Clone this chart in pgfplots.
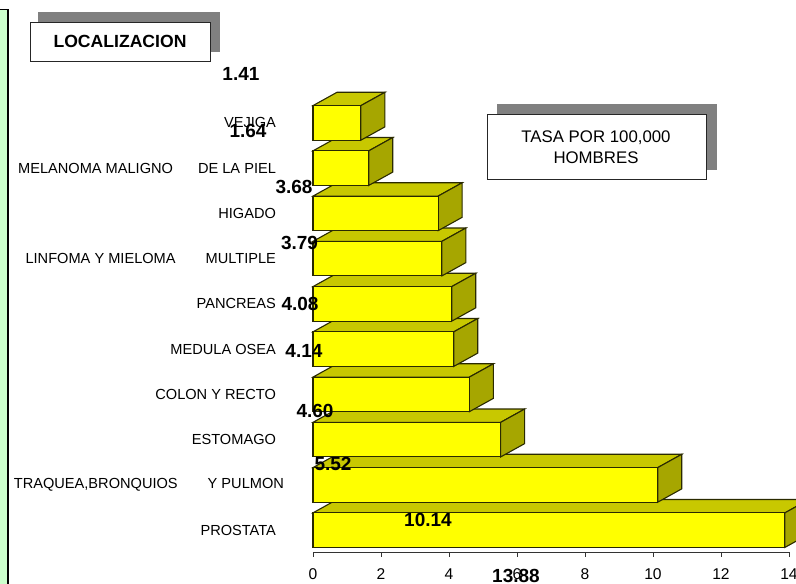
\documentclass[border=0pt]{standalone}
\usepackage{pgfplots}
\pgfplotsset{compat=1.18}
\usepackage{fontspec}
\setmainfont{Liberation Sans}
\definecolor{panel}{HTML}{CCFFCC}
\definecolor{topc}{HTML}{C8C800}
\definecolor{sidec}{HTML}{A6A600}
\definecolor{edge}{HTML}{2A2A00}
\definecolor{shadow}{HTML}{808080}
\definecolor{baryellow}{RGB}{255,255,0}
\newcommand{\lab}{\fontsize{14.6}{17}\selectfont}
\newcommand{\val}{\fontsize{19}{21}\selectfont\bfseries}
\begin{document}
\begin{tikzpicture}[x=1pt,y=1pt]
\useasboundingbox (0,0) rectangle (796,584);
\clip (0,0) rectangle (796,584);
\fill[panel] (0,0) rectangle (7.5,574);
\draw[black,line width=1.8pt] (0,574.5) -- (7.9,574.5) -- (7.9,0);
\begin{axis}[
  at={(313pt,31.7pt)}, anchor=south west,
  scale only axis, width=476pt, height=452.05pt,
  xmin=0, xmax=14, ymin=-0.49, ymax=9.5,
  axis x line=bottom, axis y line=left,
  x axis line style={-, draw=black!80, line width=1.2pt},
  y axis line style={draw=none},
  clip=false,
  xtick={0,2,4,6,8,10,12,14},
  x tick style={draw=black!80, line width=0.9pt},
  y tick style={draw=none},
  tick align=outside, major tick length=4.5pt,
  /pgf/number format/assume math mode=true,
  xticklabel style={font=\fontsize{15.6}{17}\selectfont, yshift=-8pt},
  ytick={0,1,2,3,4,5,6,7,8,9},
  yticklabels={PROSTATA,
    {TRAQUEA,BRONQUIOS\hspace{30pt}Y PULMON\kern-8pt},
    ESTOMAGO,COLON Y RECTO,MEDULA OSEA,PANCREAS,
    {LINFOMA Y MIELOMA\hspace{30pt}MULTIPLE},
    HIGADO,
    {MELANOMA MALIGNO\hspace{25pt}DE LA PIEL},
    VEJIGA},
  yticklabel style={font=\lab, anchor=east, xshift=-29pt},
]
% top faces
\addplot[fill=topc,draw=edge,line width=1.1pt,forget plot] coordinates {(0,0.382)(13.88,0.382)(14.586,0.676)(0.706,0.676)} --cycle;
\addplot[fill=topc,draw=edge,line width=1.1pt,forget plot] coordinates {(0,1.382)(10.14,1.382)(10.846,1.676)(0.706,1.676)} --cycle;
\addplot[fill=topc,draw=edge,line width=1.1pt,forget plot] coordinates {(0,2.382)(5.52,2.382)(6.226,2.676)(0.706,2.676)} --cycle;
\addplot[fill=topc,draw=edge,line width=1.1pt,forget plot] coordinates {(0,3.382)(4.60,3.382)(5.306,3.676)(0.706,3.676)} --cycle;
\addplot[fill=topc,draw=edge,line width=1.1pt,forget plot] coordinates {(0,4.382)(4.14,4.382)(4.846,4.676)(0.706,4.676)} --cycle;
\addplot[fill=topc,draw=edge,line width=1.1pt,forget plot] coordinates {(0,5.382)(4.08,5.382)(4.786,5.676)(0.706,5.676)} --cycle;
\addplot[fill=topc,draw=edge,line width=1.1pt,forget plot] coordinates {(0,6.382)(3.79,6.382)(4.496,6.676)(0.706,6.676)} --cycle;
\addplot[fill=topc,draw=edge,line width=1.1pt,forget plot] coordinates {(0,7.382)(3.68,7.382)(4.386,7.676)(0.706,7.676)} --cycle;
\addplot[fill=topc,draw=edge,line width=1.1pt,forget plot] coordinates {(0,8.382)(1.64,8.382)(2.346,8.676)(0.706,8.676)} --cycle;
\addplot[fill=topc,draw=edge,line width=1.1pt,forget plot] coordinates {(0,9.382)(1.41,9.382)(2.116,9.676)(0.706,9.676)} --cycle;
% side faces
\addplot[fill=sidec,draw=edge,line width=1.1pt,forget plot] coordinates {(13.88,0.382)(14.586,0.676)(14.586,-0.088)(13.88,-0.382)} --cycle;
\addplot[fill=sidec,draw=edge,line width=1.1pt,forget plot] coordinates {(10.14,1.382)(10.846,1.676)(10.846,0.912)(10.14,0.618)} --cycle;
\addplot[fill=sidec,draw=edge,line width=1.1pt,forget plot] coordinates {(5.52,2.382)(6.226,2.676)(6.226,1.912)(5.52,1.618)} --cycle;
\addplot[fill=sidec,draw=edge,line width=1.1pt,forget plot] coordinates {(4.60,3.382)(5.306,3.676)(5.306,2.912)(4.60,2.618)} --cycle;
\addplot[fill=sidec,draw=edge,line width=1.1pt,forget plot] coordinates {(4.14,4.382)(4.846,4.676)(4.846,3.912)(4.14,3.618)} --cycle;
\addplot[fill=sidec,draw=edge,line width=1.1pt,forget plot] coordinates {(4.08,5.382)(4.786,5.676)(4.786,4.912)(4.08,4.618)} --cycle;
\addplot[fill=sidec,draw=edge,line width=1.1pt,forget plot] coordinates {(3.79,6.382)(4.496,6.676)(4.496,5.912)(3.79,5.618)} --cycle;
\addplot[fill=sidec,draw=edge,line width=1.1pt,forget plot] coordinates {(3.68,7.382)(4.386,7.676)(4.386,6.912)(3.68,6.618)} --cycle;
\addplot[fill=sidec,draw=edge,line width=1.1pt,forget plot] coordinates {(1.64,8.382)(2.346,8.676)(2.346,7.912)(1.64,7.618)} --cycle;
\addplot[fill=sidec,draw=edge,line width=1.1pt,forget plot] coordinates {(1.41,9.382)(2.116,9.676)(2.116,8.912)(1.41,8.618)} --cycle;
% front faces
\addplot[xbar, bar shift=0pt, bar width=34.6pt, fill=baryellow, draw=edge, line width=1.1pt] coordinates {
 (13.88,0) (10.14,1) (5.52,2) (4.60,3) (4.14,4) (4.08,5) (3.79,6) (3.68,7) (1.64,8) (1.41,9)};
% value labels, where the source has them
\node[font=\val] at (axis cs:-2.118,10.077) {1.41};
\node[font=\val] at (axis cs:-1.912,8.818) {1.64};
\node[font=\val] at (axis cs:-0.559,7.580) {3.68};
\node[font=\val] at (axis cs:-0.397,6.343) {3.79};
\node[font=\val] at (axis cs:-0.382,4.994) {4.08};
\node[font=\val] at (axis cs:-0.265,3.956) {4.14};
\node[font=\val] at (axis cs:0.059,2.630) {4.60};
\node[font=\val] at (axis cs:0.588,1.459) {5.52};
\node[font=\val] at (axis cs:3.382,0.221) {10.14};
\node[font=\val] at (axis cs:5.971,-1.017) {13.88};
\end{axis}
% boxes
\fill[shadow] (38,572) rectangle (220,532);
\draw[fill=white,draw=black!85,line width=0.9pt] (30,562) rectangle (210,523);
\node[font=\fontsize{17.6}{20}\selectfont\bfseries] at (120,542.5) {LOCALIZACION};
\fill[shadow] (497,480) rectangle (717,414);
\draw[fill=white,draw=black!85,line width=0.9pt] (487,470) rectangle (706,405);
\node[font=\fontsize{16.8}{21}\selectfont, align=center] at (596,437) {TASA POR 100,000\\HOMBRES};
\end{tikzpicture}
\end{document}
